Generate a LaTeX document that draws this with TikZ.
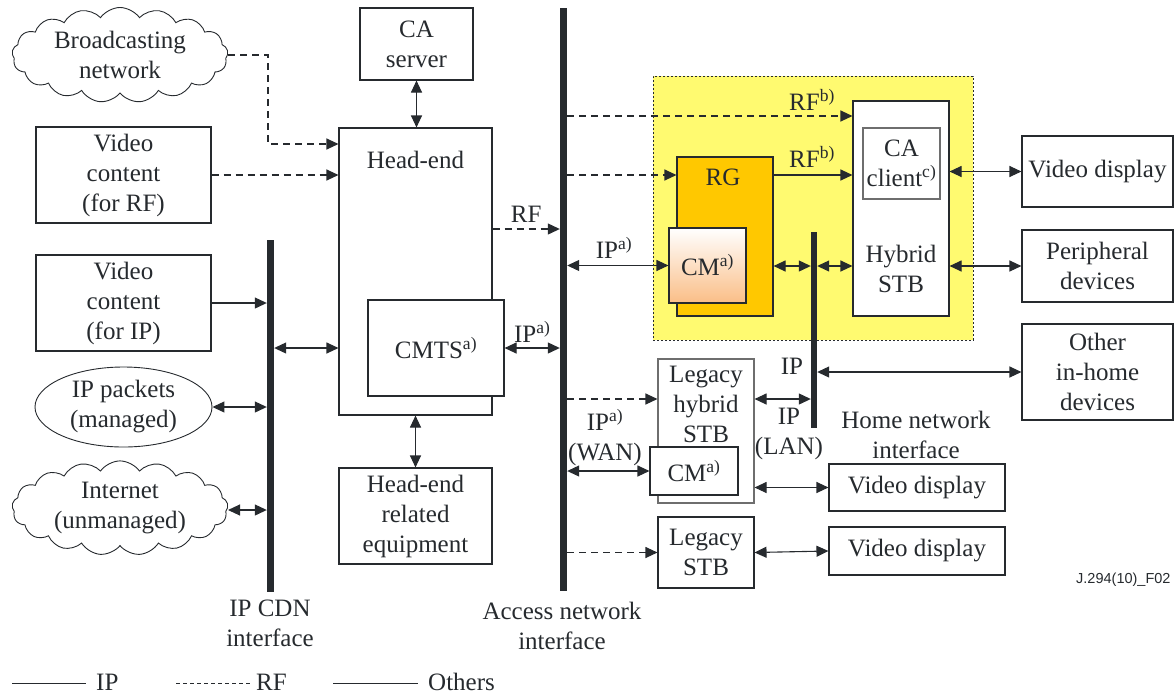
\documentclass[tikz,border=0pt]{standalone}
\usepackage{fontspec}
\setmainfont{Liberation Serif}
\newfontfamily\sansf{Liberation Sans}
\usetikzlibrary{arrows.meta,shapes.geometric,shapes.symbols,calc}
\definecolor{ink}{RGB}{38,42,46}
\definecolor{grayb}{RGB}{110,110,110}
\definecolor{yellowbg}{RGB}{255,250,112}
\definecolor{rgorange}{RGB}{255,200,0}
\definecolor{peach}{RGB}{250,190,135}
\newcommand{\sps}[1]{\textsuperscript{#1}}
\begin{document}
\begin{tikzpicture}[x=1pt,y=-1pt,
  every node/.style={font=\rmfamily\fontsize{25}{30}\selectfont, text=ink},
  bx/.style 2 args={draw=ink, line width=1.1pt, rectangle, fill=white, inner sep=0pt, align=center, minimum width=#1, minimum height=#2},
  gbx/.style 2 args={bx={#1}{#2}, draw=grayb},
  bar/.style 2 args={fill=ink, draw=none, rectangle, inner sep=0pt, minimum width=#1, minimum height=#2},
  lbl/.style={inner sep=0pt, align=center},
  leg/.style={inner sep=0pt, anchor=base west},
  ln/.style={draw=ink, line width=1.1pt},
  rf/.style={ln, dash pattern=on 7pt off 5pt},
  tip/.style={-{Triangle[length=12pt,width=11pt]}},
  both/.style={{Triangle[length=12pt,width=11pt]}-{Triangle[length=12pt,width=11pt]}},
  cloudy/.style={cloud, draw=ink, line width=0.9pt, cloud puffs=17, cloud puff arc=110, aspect=2.4, inner sep=0pt, align=center},
]
\useasboundingbox (0,0) rectangle (1174,694);

% home region
\node[draw=ink, line width=0.8pt, dash pattern=on 2pt off 2pt, fill=yellowbg, rectangle, minimum width=320, minimum height=264, inner sep=0pt] (homereg) at (813,208) {};

% left sources
\node[cloudy, minimum width=216, minimum height=95] (bcast) at (120,55) {Broadcasting\\network};
\node[bx={175}{96}] (vrf) at (123.5,175) {Video\\content\\(for RF)};
\node[bx={175}{96}] (vip) at (123.5,303) {Video\\content\\(for IP)};
\node[ellipse, draw=ink, line width=0.9pt, minimum width=177, minimum height=80, inner sep=0pt, align=center] (ippk) at (123.5,407) {IP packets\\(managed)};
\node[cloudy, minimum width=216, minimum height=90] (inet) at (120,508) {Internet\\(unmanaged)};

% head-end side
\node[bx={113}{72}] (caserv) at (416.5,44) {CA\\server};
\node[bx={153}{287}] (he) at (415.5,271.5) {};
\node[lbl] (hetext) at (415.5,160) {Head-end};
\node[bx={136}{96}] (cmts) at (436,348) {CMTS\sps{a)}};
\node[bx={153}{96}] (her) at (415.5,516) {Head-end\\related\\equipment};

% bars
\node[bar={7}{352}] (cdn) at (270.5,416) {};
\node[bar={7}{583}] (acc) at (563.5,299.5) {};

% home devices
\node[bx={96}{215}] (hstb) at (901,208.5) {};
\node[lbl] (hstbtext) at (901,269) {Hybrid\\STB};
\node[gbx={77}{71}] (cacl) at (901.5,163.5) {CA\\client\sps{c)}};
\node[bx={96}{159}, fill=rgorange] (rg) at (725,236.5) {};
\node[lbl] (rgtext) at (723,177) {RG};
\node[draw=ink, line width=1.1pt, rectangle, inner sep=0pt, minimum width=77, minimum height=75, top color=white, bottom color=peach] (cm) at (707.5,265.5) {CM\sps{a)}};

\node[bx={96}{144}, draw=grayb] (lhstb) at (706,431) {};
\node[lbl] (lhstbtext) at (706,404) {Legacy\\hybrid\\STB};
\node[bx={88}{48}] (lcm) at (694,471) {CM\sps{a)}};
\node[bx={96}{71}] (lstb) at (706,552.5) {Legacy\\STB};

\node[bar={6}{196}] (hn) at (814,330) {};

\node[bx={151}{71}] (vd1) at (1097.5,171.5) {Video display};
\node[bx={151}{72}] (peri) at (1097.5,266) {Peripheral\\devices};
\node[bx={151}{96}] (oth) at (1097.5,372) {Other\\in-home\\devices};
\node[bx={176}{47}] (vd2) at (917,487.5) {Video display};
\node[bx={176}{48}] (vd3) at (917,551) {Video display};

% connectors: left
\draw[rf, tip] (bcast.east) -- ++(40,0) |- (he.west |- 0,144);
\draw[rf, tip] (vrf.east) -- (he.west |- vrf.east);
\draw[ln, both] (caserv.south) -- (he.north -| caserv.south);
\draw[ln, both] (he.south) -- (her.north);
\draw[ln, tip] (vip.east) -- (cdn.west |- vip.east);
\draw[ln, both] (cdn.east |- 0,348) -- (he.west |- 0,348);
\draw[ln, both] (ippk.east) -- (cdn.west |- ippk.east);
\draw[ln, both] (inet.east |- 0,510) -- (cdn.west |- 0,510);

% head-end to access
\draw[rf, tip] (he.east |- 0,229) -- (acc.west |- 0,229) node[lbl, midway, above=6pt] (rflbl) {RF};
\draw[ln, both] (cmts.east) -- (acc.west |- cmts.east) node[lbl, midway, above=5pt] (iplbl1) {IP\sps{a)}};

% access to home
\draw[rf, tip] (acc.east |- 0,116) -- (hstb.west |- 0,116);
\node[lbl] (rfb1) at (812,100) {RF\sps{b)}};
\draw[rf, tip] (acc.east |- 0,175) -- (rg.west |- 0,175);
\draw[ln, tip] (rg.east |- 0,175) -- (hstb.west |- 0,175);
\node[lbl] (rfb2) at (812,157) {RF\sps{b)}};
\draw[ln, both] (acc.east |- cm.west) -- (cm.west);
\node[lbl] (iplbl2) at (614,248) {IP\sps{a)}};
\draw[ln, both] (rg.east |- 0,266) -- (hn.west |- 0,266);
\draw[ln, both] (hn.east |- 0,266) -- (hstb.west |- 0,266);
\draw[ln, both] (hstb.east |- vd1.west) -- (vd1.west);
\draw[ln, both] (hstb.east |- peri.west) -- (peri.west);
\draw[ln, both] (hn.east |- oth.west) -- (oth.west);
\node[lbl] (iphn) at (792,366) {IP};

% legacy
\draw[rf, tip] (acc.east |- 0,399) -- (lhstb.west |- 0,399);
\draw[ln, both] (acc.east |- lcm.west) -- (lcm.west);
\node[lbl] (wan) at (605,438) {IP\sps{a)}\\(WAN)};
\draw[ln, both] (lhstb.east |- 0,399) -- (hn.west |- 0,399);
\node[lbl] (lan) at (789,434) {IP\\(LAN)};
\draw[ln, both] (lhstb.east |- vd2.west) -- (vd2.west);
\draw[rf, tip] (acc.east |- lstb.west) -- (lstb.west);
\draw[ln, both] (lstb.east) -- (vd3.west);

% interface labels
\node[lbl] (hnlbl) at (916,435) {Home network\\interface};
\node[lbl] (cdnlbl) at (270,623) {IP CDN\\interface};
\node[lbl] (acclbl) at (562,626) {Access network\\interface};
\node[lbl, anchor=west, font=\sansf\fontsize{14.5}{16}\selectfont] (fig) at (1076,580) {J.294(10)\_F02};

% legend
\coordinate (l1a) at (12,683); \coordinate (l1b) at (86,683);
\coordinate (l2a) at (176,683); \coordinate (l2b) at (251,683);
\coordinate (l3a) at (333,683); \coordinate (l3b) at (418,683);
\draw[draw=ink, line width=0.9pt] (l1a) -- (l1b);
\node[leg] (legip) at (96,690) {IP};
\draw[draw=ink, line width=0.9pt, dash pattern=on 4pt off 3pt] (l2a) -- (l2b);
\node[leg] (legrf) at (256,690) {RF};
\draw[draw=ink, line width=0.9pt] (l3a) -- (l3b);
\node[leg] (legoth) at (428,690) {Others};
\end{tikzpicture}
\end{document}
